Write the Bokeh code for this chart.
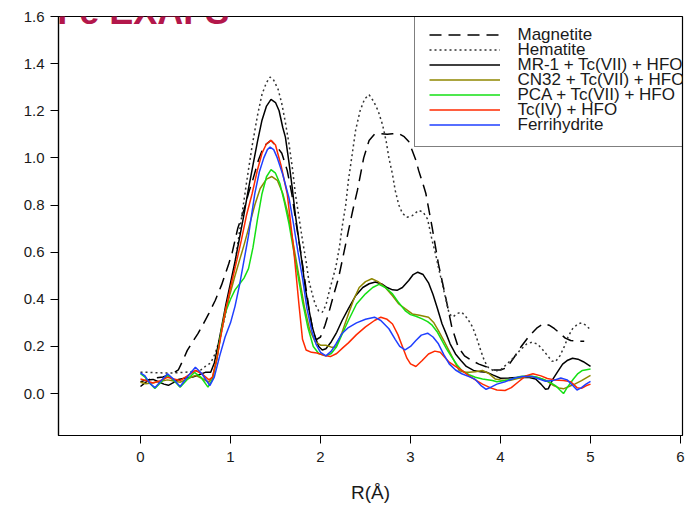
from bokeh.plotting import figure
from bokeh.models import Legend, LegendItem, Label, FixedTicker, NumeralTickFormatter, Range1d
from bokeh.embed import file_html
from bokeh.resources import INLINE

# ---------------- data ----------------
x_ticks = [0, 1, 2, 3, 4, 5, 6]
y_ticks = [0.0, 0.2, 0.4, 0.6, 0.8, 1.0, 1.2, 1.4, 1.6]
series_names = ["Magnetite", "Hematite", "MR-1 + Tc(VII) + HFO", "CN32 + Tc(VII) + HFO",
                "PCA + Tc(VII) + HFO", "Tc(IV) + HFO", "Ferrihydrite"]

r_magnetite = [0.00, 0.05, 0.10, 0.17, 0.25, 0.32, 0.38, 0.42, 0.47, 0.52, 0.58, 0.64, 0.70, 0.76, 0.83,
               0.90, 0.98, 1.02, 1.08, 1.15, 1.20, 1.25, 1.31, 1.37, 1.45, 1.52, 1.57, 1.63, 1.68, 1.73,
               1.78, 1.83, 1.88, 1.92, 1.95, 2.00, 2.05, 2.09, 2.14, 2.20, 2.25, 2.31, 2.36, 2.41, 2.48,
               2.54, 2.60, 2.67, 2.74, 2.80, 2.87, 2.93, 2.98, 3.02, 3.06, 3.09, 3.13, 3.17, 3.24, 3.31,
               3.39, 3.46, 3.53, 3.60, 3.68, 3.76, 3.85, 3.93, 4.00, 4.07, 4.15, 4.23, 4.32, 4.41, 4.48,
               4.54, 4.60, 4.66, 4.72, 4.78, 4.86, 4.93]
magnetite = [0.030, 0.045, 0.060, 0.066, 0.070, 0.080, 0.090, 0.100, 0.140, 0.183, 0.220, 0.255, 0.297,
             0.340, 0.395, 0.460, 0.550, 0.600, 0.700, 0.780, 0.850, 0.910, 0.990, 1.050, 1.074, 1.045,
             1.020, 0.947, 0.850, 0.720, 0.600, 0.470, 0.340, 0.260, 0.228, 0.240, 0.290, 0.340, 0.410,
             0.490, 0.580, 0.690, 0.780, 0.862, 1.000, 1.074, 1.100, 1.103, 1.100, 1.102, 1.103, 1.090,
             1.070, 1.030, 0.990, 0.947, 0.900, 0.850, 0.706, 0.550, 0.410, 0.280, 0.197, 0.160, 0.140,
             0.125, 0.112, 0.100, 0.100, 0.110, 0.153, 0.200, 0.245, 0.280, 0.297, 0.290, 0.275, 0.256,
             0.235, 0.225, 0.222, 0.222]

r_hematite = [0.00, 0.10, 0.20, 0.30, 0.40, 0.50, 0.60, 0.67, 0.72, 0.78, 0.83, 0.88, 0.94, 1.00, 1.06,
              1.12, 1.18, 1.24, 1.30, 1.35, 1.40, 1.44, 1.48, 1.53, 1.57, 1.61, 1.65, 1.69, 1.72, 1.76,
              1.80, 1.84, 1.87, 1.91, 1.94, 1.98, 2.02, 2.06, 2.09, 2.13, 2.17, 2.21, 2.24, 2.28, 2.31,
              2.35, 2.39, 2.44, 2.49, 2.54, 2.59, 2.64, 2.69, 2.73, 2.76, 2.80, 2.83, 2.87, 2.91, 2.96,
              3.02, 3.09, 3.14, 3.19, 3.24, 3.28, 3.31, 3.37, 3.43, 3.47, 3.52, 3.57, 3.63, 3.69, 3.74,
              3.78, 3.82, 3.86, 3.93, 4.00, 4.07, 4.15, 4.22, 4.29, 4.35, 4.41, 4.46, 4.52, 4.57, 4.61,
              4.66, 4.71, 4.75, 4.80, 4.86, 4.90, 4.95, 5.00]
hematite = [0.090, 0.090, 0.088, 0.087, 0.088, 0.090, 0.095, 0.100, 0.115, 0.130, 0.170, 0.230, 0.330,
            0.440, 0.580, 0.740, 0.900, 1.050, 1.180, 1.270, 1.320, 1.343, 1.330, 1.290, 1.230, 1.150,
            1.060, 0.950, 0.850, 0.750, 0.650, 0.560, 0.480, 0.420, 0.380, 0.350, 0.345, 0.375, 0.423,
            0.480, 0.536, 0.620, 0.706, 0.800, 0.904, 1.010, 1.117, 1.200, 1.250, 1.268, 1.240, 1.200,
            1.140, 1.070, 1.000, 0.930, 0.862, 0.800, 0.765, 0.748, 0.755, 0.777, 0.770, 0.740, 0.650,
            0.590, 0.536, 0.437, 0.338, 0.325, 0.340, 0.345, 0.320, 0.282, 0.230, 0.183, 0.140, 0.112,
            0.095, 0.100, 0.125, 0.154, 0.185, 0.210, 0.218, 0.210, 0.190, 0.162, 0.138, 0.135, 0.160,
            0.200, 0.240, 0.275, 0.296, 0.300, 0.290, 0.270]

r_mr1 = [0.00, 0.07, 0.14, 0.20, 0.26, 0.31, 0.36, 0.42, 0.50, 0.58, 0.65, 0.72, 0.78, 0.82, 0.86, 0.90,
         0.95, 1.00, 1.05, 1.10, 1.15, 1.20, 1.25, 1.30, 1.35, 1.40, 1.45, 1.50, 1.54, 1.58, 1.61, 1.65,
         1.685, 1.72, 1.76, 1.80, 1.83, 1.87, 1.91, 1.95, 1.98, 2.02, 2.06, 2.12, 2.18, 2.24, 2.31, 2.39,
         2.47, 2.54, 2.61, 2.68, 2.74, 2.80, 2.85, 2.91, 2.98, 3.03, 3.08, 3.14, 3.20, 3.25, 3.30, 3.35,
         3.40, 3.44, 3.50, 3.56, 3.62, 3.70, 3.78, 3.85, 3.92, 4.00, 4.09, 4.22, 4.32, 4.39, 4.45, 4.50,
         4.53, 4.58, 4.63, 4.69, 4.74, 4.80, 4.86, 4.92, 5.00]
mr1 = [0.050, 0.058, 0.060, 0.050, 0.040, 0.035, 0.045, 0.060, 0.066, 0.070, 0.080, 0.090, 0.090, 0.130,
       0.200, 0.280, 0.380, 0.470, 0.560, 0.660, 0.760, 0.870, 0.970, 1.070, 1.160, 1.220, 1.248, 1.235,
       1.200, 1.130, 1.088, 0.980, 0.876, 0.760, 0.650, 0.540, 0.450, 0.360, 0.280, 0.230, 0.200, 0.185,
       0.190, 0.220, 0.260, 0.310, 0.360, 0.415, 0.450, 0.466, 0.473, 0.465, 0.450, 0.440, 0.438, 0.450,
       0.480, 0.505, 0.515, 0.505, 0.470, 0.420, 0.360, 0.296, 0.250, 0.211, 0.168, 0.140, 0.115, 0.098,
       0.092, 0.090, 0.078, 0.065, 0.066, 0.069, 0.068, 0.062, 0.040, 0.018, 0.020, 0.060, 0.090, 0.125,
       0.140, 0.150, 0.146, 0.135, 0.115]

r_cn32 = [0.00, 0.06, 0.12, 0.20, 0.30, 0.37, 0.44, 0.52, 0.61, 0.68, 0.76, 0.80, 0.85, 0.90, 0.94, 1.00,
          1.05, 1.10, 1.15, 1.20, 1.27, 1.33, 1.40, 1.46, 1.52, 1.58, 1.64, 1.70, 1.76, 1.82, 1.88, 1.94,
          2.00, 2.06, 2.12, 2.17, 2.24, 2.31, 2.37, 2.43, 2.50, 2.57, 2.64, 2.72, 2.80, 2.87, 2.94, 3.02,
          3.10, 3.20, 3.26, 3.31, 3.37, 3.43, 3.49, 3.54, 3.60, 3.65, 3.72, 3.80, 3.87, 3.94, 4.00, 4.10,
          4.20, 4.31, 4.40, 4.46, 4.53, 4.59, 4.65, 4.70, 4.76, 4.83, 4.90, 5.00]
cn32 = [0.048, 0.042, 0.045, 0.050, 0.058, 0.053, 0.048, 0.062, 0.077, 0.065, 0.048, 0.070, 0.150, 0.270,
        0.350, 0.430, 0.500, 0.565, 0.630, 0.700, 0.800, 0.870, 0.910, 0.921, 0.905, 0.850, 0.760, 0.630,
        0.500, 0.370, 0.270, 0.220, 0.205, 0.205, 0.197, 0.197, 0.260, 0.338, 0.400, 0.450, 0.475, 0.487,
        0.475, 0.450, 0.415, 0.380, 0.360, 0.338, 0.332, 0.324, 0.300, 0.267, 0.225, 0.180, 0.135, 0.098,
        0.090, 0.090, 0.093, 0.098, 0.085, 0.062, 0.058, 0.055, 0.065, 0.072, 0.068, 0.062, 0.050, 0.034,
        0.024, 0.020, 0.030, 0.041, 0.055, 0.077]

r_pca = [0.00, 0.05, 0.10, 0.16, 0.22, 0.30, 0.37, 0.44, 0.52, 0.60, 0.67, 0.75, 0.80, 0.85, 0.90, 0.95,
         1.00, 1.05, 1.10, 1.15, 1.20, 1.25, 1.30, 1.35, 1.40, 1.45, 1.50, 1.55, 1.60, 1.65, 1.70, 1.75,
         1.80, 1.86, 1.92, 1.98, 2.06, 2.12, 2.18, 2.25, 2.31, 2.40, 2.50, 2.58, 2.65, 2.72, 2.80, 2.87,
         2.94, 3.00, 3.06, 3.13, 3.19, 3.24, 3.30, 3.35, 3.40, 3.46, 3.52, 3.57, 3.65, 3.72, 3.80, 3.91,
         3.96, 4.05, 4.13, 4.22, 4.31, 4.40, 4.50, 4.56, 4.61, 4.66, 4.70, 4.74, 4.81, 4.86, 4.91, 5.00]
pca = [0.084, 0.070, 0.045, 0.022, 0.045, 0.077, 0.055, 0.027, 0.060, 0.090, 0.070, 0.027, 0.060, 0.150,
       0.270, 0.350, 0.400, 0.440, 0.465, 0.490, 0.530, 0.620, 0.740, 0.848, 0.920, 0.950, 0.935, 0.890,
       0.810, 0.720, 0.610, 0.500, 0.390, 0.280, 0.200, 0.170, 0.160, 0.170, 0.200, 0.260, 0.310, 0.380,
       0.423, 0.450, 0.463, 0.450, 0.423, 0.385, 0.352, 0.335, 0.328, 0.317, 0.305, 0.290, 0.260, 0.225,
       0.190, 0.154, 0.120, 0.098, 0.080, 0.069, 0.062, 0.055, 0.050, 0.055, 0.062, 0.072, 0.076, 0.070,
       0.057, 0.045, 0.034, 0.015, 0.000, 0.025, 0.062, 0.085, 0.098, 0.104]

r_tc4 = [0.00, 0.06, 0.14, 0.22, 0.30, 0.37, 0.44, 0.52, 0.61, 0.68, 0.76, 0.80, 0.85, 0.90, 0.95, 1.00,
         1.07, 1.12, 1.18, 1.24, 1.30, 1.35, 1.40, 1.45, 1.50, 1.56, 1.63, 1.70, 1.76, 1.80, 1.84, 1.90,
         1.96, 2.03, 2.11, 2.18, 2.25, 2.31, 2.40, 2.50, 2.60, 2.67, 2.74, 2.80, 2.86, 2.91, 2.96, 3.00,
         3.06, 3.13, 3.20, 3.27, 3.33, 3.43, 3.50, 3.57, 3.65, 3.72, 3.80, 3.89, 3.96, 4.05, 4.12, 4.20,
         4.28, 4.36, 4.45, 4.52, 4.60, 4.70, 4.78, 4.85, 4.90, 4.95, 5.00]
tc4 = [0.062, 0.055, 0.045, 0.055, 0.069, 0.062, 0.055, 0.075, 0.098, 0.085, 0.058, 0.070, 0.150, 0.260,
       0.360, 0.450, 0.565, 0.650, 0.760, 0.848, 0.950, 1.020, 1.060, 1.075, 1.055, 0.970, 0.848, 0.620,
       0.380, 0.230, 0.185, 0.175, 0.172, 0.163, 0.157, 0.170, 0.195, 0.215, 0.250, 0.283, 0.310, 0.324,
       0.315, 0.295, 0.250, 0.200, 0.150, 0.126, 0.115, 0.140, 0.168, 0.180, 0.175, 0.133, 0.115, 0.098,
       0.075, 0.058, 0.040, 0.024, 0.015, 0.013, 0.025, 0.050, 0.075, 0.084, 0.075, 0.064, 0.058, 0.055,
       0.050, 0.025, 0.022, 0.033, 0.040]

r_ferri = [0.00, 0.05, 0.10, 0.16, 0.22, 0.30, 0.37, 0.44, 0.52, 0.61, 0.68, 0.77, 0.82, 0.88, 0.94, 1.00,
           1.05, 1.10, 1.15, 1.20, 1.27, 1.32, 1.37, 1.41, 1.44, 1.48, 1.52, 1.58, 1.65, 1.70, 1.75, 1.80,
           1.85, 1.90, 1.95, 2.00, 2.06, 2.12, 2.17, 2.24, 2.31, 2.40, 2.50, 2.60, 2.67, 2.76, 2.83, 2.88,
           2.94, 3.00, 3.06, 3.12, 3.19, 3.25, 3.31, 3.37, 3.43, 3.50, 3.57, 3.65, 3.72, 3.78, 3.84, 3.90,
           3.96, 4.05, 4.15, 4.24, 4.35, 4.43, 4.50, 4.58, 4.67, 4.74, 4.80, 4.85, 4.90, 4.95, 5.00]
ferri = [0.088, 0.075, 0.045, 0.025, 0.050, 0.084, 0.060, 0.030, 0.070, 0.112, 0.085, 0.034, 0.070, 0.160,
         0.240, 0.300, 0.370, 0.460, 0.565, 0.670, 0.848, 0.940, 1.000, 1.035, 1.046, 1.035, 1.000, 0.930,
         0.830, 0.720, 0.600, 0.490, 0.360, 0.270, 0.210, 0.175, 0.160, 0.180, 0.210, 0.255, 0.280, 0.300,
         0.315, 0.324, 0.310, 0.275, 0.230, 0.200, 0.185, 0.200, 0.225, 0.248, 0.256, 0.240, 0.211, 0.165,
         0.126, 0.100, 0.084, 0.072, 0.060, 0.035, 0.018, 0.028, 0.040, 0.050, 0.065, 0.072, 0.072, 0.062,
         0.052, 0.055, 0.066, 0.058, 0.035, 0.015, 0.025, 0.040, 0.052]

# ---------------- figure ----------------
X0, X1, Y0, Y1 = -0.911, 6.022, -0.178, 1.6
FRAME_LEFT, FRAME_RIGHT, FRAME_TOP, FRAME_BOTTOM = 58, 682, 16, 435   # canvas pixels of the frame


def px_to_data(px, py):
    """canvas pixel -> data coordinates (used only to place legend texts)"""
    dx = X0 + (px - FRAME_LEFT) * (X1 - X0) / (FRAME_RIGHT - FRAME_LEFT)
    dy = Y0 + (FRAME_BOTTOM - py) * (Y1 - Y0) / (FRAME_BOTTOM - FRAME_TOP)
    return dx, dy


p = figure(width=694, height=506, output_backend="svg", toolbar_location=None,
           x_range=Range1d(X0, X1), y_range=Range1d(Y0, Y1),
           min_border_left=FRAME_LEFT, min_border_right=694 - FRAME_RIGHT,
           min_border_top=FRAME_TOP, min_border_bottom=506 - FRAME_BOTTOM)
p.title.visible = False
p.grid.visible = False
p.outline_line_color = "black"
p.outline_line_width = 1.2
p.background_fill_color = "white"
p.border_fill_color = "white"

FONT = "Liberation Sans"
for ax in (p.xaxis[0], p.yaxis[0]):
    ax.axis_line_color = "black"
    ax.axis_line_width = 1.2
    ax.major_tick_line_color = "black"
    ax.major_tick_out = 8
    ax.major_tick_in = 0
    ax.minor_tick_line_color = None
    ax.major_label_text_font = FONT
    ax.major_label_text_font_size = "15px"
    ax.major_label_text_color = "#1a1a1a"

p.xaxis.ticker = FixedTicker(ticks=x_ticks)
p.yaxis.ticker = FixedTicker(ticks=y_ticks)
p.yaxis.formatter = NumeralTickFormatter(format="0.0")
p.xaxis.major_label_standoff = 8
p.yaxis.major_label_standoff = 6
p.xaxis.axis_label = "R(Å)"
p.xaxis.axis_label_text_font = FONT
p.xaxis.axis_label_text_font_size = "19px"
p.xaxis.axis_label_text_font_style = "normal"
p.xaxis.axis_label_text_color = "#1a1a1a"
p.xaxis.axis_label_standoff = 17

styles = [
    (r_magnetite, magnetite, "black", "12 7", 1.5),
    (r_hematite, hematite, "#333333", "2 3", 1.5),
    (r_mr1, mr1, "black", "solid", 1.5),
    (r_cn32, cn32, "#8f8700", "solid", 1.5),
    (r_pca, pca, "#14e014", "solid", 1.5),
    (r_tc4, tc4, "#ff2a00", "solid", 1.5),
    (r_ferri, ferri, "#1f3fff", "solid", 1.5),
]
items = []
for name, (xs, ys, col, dash, lw) in zip(series_names, styles):
    r = p.line(xs, ys, line_color=col, line_dash=dash, line_width=lw)
    items.append(LegendItem(label=" ", renderers=[r]))

# legend box + line samples (rows 15 px); the entry texts are drawn as labels on top
LEG_LEFT, LEG_TOP, LEG_PAD, ROW = 414, 14, 14, 15
legend = Legend(items=items,
                location=(LEG_LEFT - FRAME_LEFT, FRAME_BOTTOM - (LEG_TOP + 2 * LEG_PAD + 7 * ROW)),
                label_text_font_size="1px", label_width=168,
                glyph_width=71, glyph_height=ROW, label_height=ROW, spacing=0,
                padding=LEG_PAD, label_standoff=19, margin=0,
                border_line_color="black", border_line_width=1.2,
                background_fill_color="white", background_fill_alpha=0.0)
p.add_layout(legend)

for i, name in enumerate(series_names):
    tx, ty = px_to_data(517, LEG_TOP + LEG_PAD + ROW * i + ROW / 2 - 1.5)
    p.add_layout(Label(x=tx, y=ty, text=name, text_font=FONT, text_font_size="17px",
                       text_color="#1a1a1a", text_baseline="middle", text_align="left",
                       level="overlay"))

title = Label(x=-0.925, y=1.62, text="Fe EXAFS", text_font=FONT, text_font_size="36px",
              text_font_style="bold", text_color="#b3174b", text_baseline="alphabetic", level="overlay")
p.add_layout(title)

open("out.html", "w").write(file_html(p, INLINE))
